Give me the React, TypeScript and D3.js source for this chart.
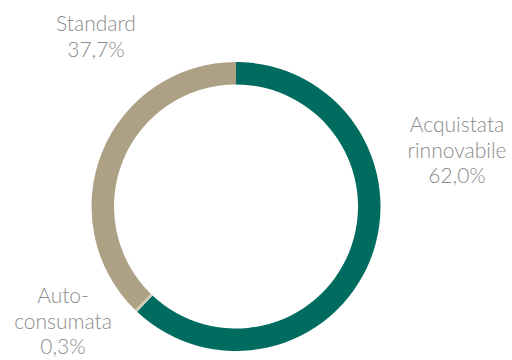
import React from "react";
import * as d3 from "d3";

const categories = ["Acquistata rinnovabile", "Auto-consumata", "Standard"];
const values = [62.0, 0.3, 37.7];
const colors = ["#006B5F", "#D3CBBB", "#ADA084"];
const labelLines = [
  ["Acquistata", "rinnovabile", "62,0%"],
  ["Auto-", "consumata", "0,3%"],
  ["Standard", "37,7%"],
];
const labelPos = [
  { x: 457, y: 132 },
  { x: 63, y: 303 },
  { x: 96, y: 31 },
];

export default function App() {
  const width = 512;
  const height = 360;
  const cx = 236;
  const cy = 206.5;
  const outer = 144.5;
  const inner = 122;
  const pie = d3
    .pie<number>()
    .sort(null)
    .value((d) => d);
  const arcs = pie(values);
  const arc = d3.arc<d3.PieArcDatum<number>>().innerRadius(inner).outerRadius(outer);
  return (
    <svg
      width={width}
      height={height}
      style={{ position: "absolute", left: 0, top: 0, background: "#fff" }}
    >
      <g transform={`translate(${cx},${cy})`}>
        {arcs.map((a, i) => (
          <path key={categories[i]} d={arc(a) || ""} fill={colors[i]} />
        ))}
      </g>
      {labelLines.map((lines, i) => (
        <text
          key={i}
          x={labelPos[i].x}
          y={labelPos[i].y}
          textAnchor="middle"
          fill="#8C8C8C"
          fontFamily="Lato, sans-serif"
          fontWeight={300}
          fontSize={21}
        >
          {lines.map((l, j) => (
            <tspan key={j} x={labelPos[i].x} dy={j === 0 ? 0 : 25.5}>
              {l}
            </tspan>
          ))}
        </text>
      ))}
    </svg>
  );
}
